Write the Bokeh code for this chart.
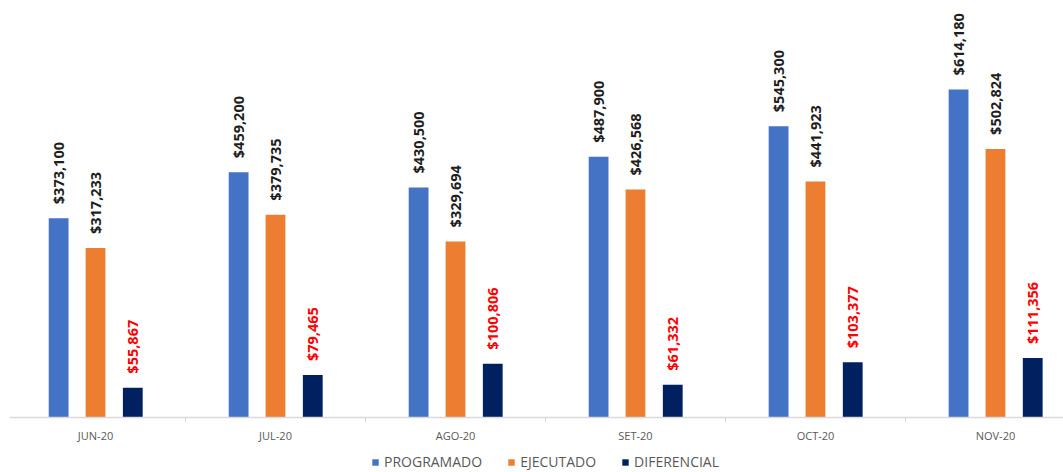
from math import pi

from bokeh.core.properties import value
from bokeh.embed import file_html
from bokeh.models import ColumnDataSource, Legend, LegendItem, Range1d, Span
from bokeh.plotting import figure
from bokeh.resources import INLINE

# Monthly budget data
months = ["JUN-20", "JUL-20", "AGO-20", "SET-20", "OCT-20", "NOV-20"]
programado = [373100, 459200, 430500, 487900, 545300, 614180]
ejecutado = [317233, 379735, 329694, 426568, 441923, 502824]
diferencial = [55867, 79465, 100806, 61332, 103377, 111356]

series_names = ["PROGRAMADO", "EJECUTADO", "DIFERENCIAL"]
series_values = [programado, ejecutado, diferencial]
series_colors = ["#4472C4", "#ED7D31", "#002060"]
label_colors = ["#1E1E1E", "#1E1E1E", "#FF0000"]
offsets = [-0.205, 0.0, 0.207]
bar_width = 0.11

FONT = "Open Sans"
AXIS_GREY = "#D9D9D9"
TEXT_GREY = "#595959"

# The frame fills the whole page; the area under y=0 holds the category
# labels and the legend.
p = figure(
    frame_width=1054, frame_height=472,
    min_border_left=9, min_border_right=0, min_border_top=0, min_border_bottom=0,
    x_range=Range1d(0.022, 5.878), y_range=Range1d(-102960, 780600),
    output_backend="svg", toolbar_location=None,
    x_axis_location=None, y_axis_location=None,
    background_fill_color="white", border_fill_color="white",
    outline_line_color=None,
)
p.xgrid.visible = False
p.ygrid.visible = False

centers = [i + 0.5 for i in range(len(months))]
boundaries = list(range(len(months) + 1))

items = []
for name, vals, color, lcolor, off in zip(series_names, series_values,
                                         series_colors, label_colors, offsets):
    src = ColumnDataSource(dict(
        x=[c + off for c in centers],
        top=vals,
        label=[f"${v:,}" for v in vals],
    ))
    r = p.vbar(x="x", top="top", width=bar_width, bottom=0, source=src,
               fill_color=color, line_color=None)
    p.text(x="x", y="top", text="label", source=src, angle=pi / 2,
           text_align="left", text_baseline="middle", y_offset=-14,
           text_font=value(FONT), text_font_style="bold",
           text_font_size="14.5px", text_color=lcolor)
    items.append(LegendItem(label=name, renderers=[r]))

# Category axis: base line, separator ticks and month labels
p.add_layout(Span(location=0, dimension="width",
                  line_color=AXIS_GREY, line_width=1.5))
p.ray(x=boundaries, y=[0] * len(boundaries), length=5, length_units="screen",
      angle=-pi / 2, line_color=AXIS_GREY, line_width=1)
p.text(x=centers, y=[0] * len(centers), text=months, y_offset=18,
       text_align="center", text_baseline="middle",
       text_font=value(FONT), text_font_size="11px", text_color=TEXT_GREY)

legend = Legend(
    items=items, orientation="horizontal", location=(362, 1),
    glyph_width=8, glyph_height=8, label_standoff=5, spacing=25,
    label_text_font=FONT, label_text_font_size="14px",
    label_text_color=TEXT_GREY, border_line_color=None,
    background_fill_alpha=0, padding=0, margin=0,
)
p.add_layout(legend, "center")

open("out.html", "w").write(file_html(p, INLINE))
